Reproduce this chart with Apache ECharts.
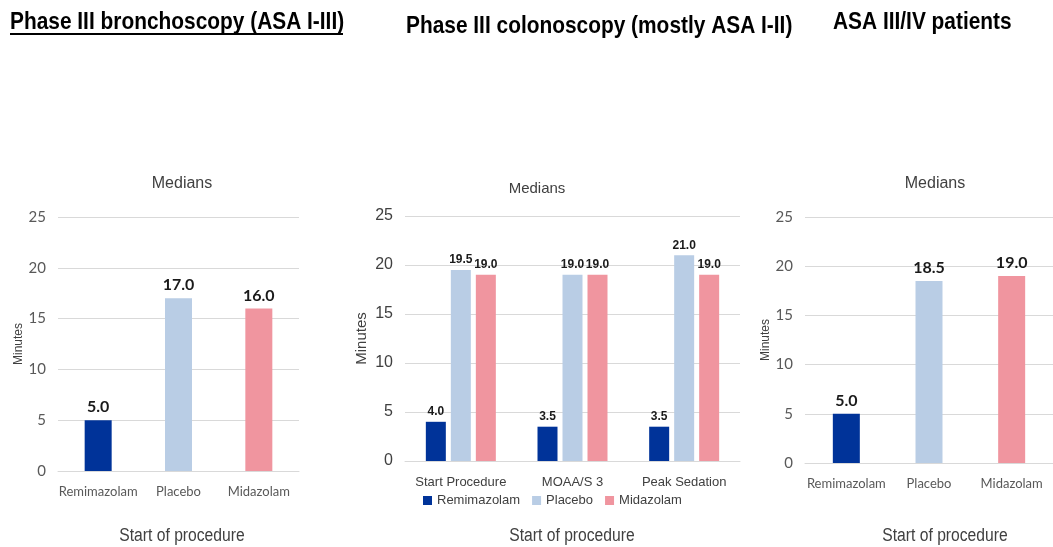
<!DOCTYPE html>
<html>
<head>
<meta charset="utf-8">
<script src="https://cdn.jsdelivr.net/npm/echarts@6/dist/echarts.min.js"></script>
<style>html,body{margin:0;padding:0;background:#fff;}#c{width:1053px;height:547px;}</style>
</head>
<body>
<div id="c"></div>
<script>
// ---- data ----
const seriesNames = ['Remimazolam', 'Placebo', 'Midazolam'];
const bronchCategories = ['Remimazolam', 'Placebo', 'Midazolam'];
const bronchValues = [5.0, 17.0, 16.0];
const colonCategories = ['Start Procedure', 'MOAA/S 3', 'Peak Sedation'];
const colonRemimazolam = [4.0, 3.5, 3.5];
const colonPlacebo = [19.5, 19.0, 21.0];
const colonMidazolam = [19.0, 19.0, 19.0];
const asaCategories = ['Remimazolam', 'Placebo', 'Midazolam'];
const asaValues = [5.0, 18.5, 19.0];
const yTicks = { min: 0, max: 25, interval: 5 };
const panelTitles = ['Phase III bronchoscopy (ASA I-III)', 'Phase III colonoscopy (mostly ASA I-II)', 'ASA III/IV patients'];
const subTitle = 'Medians';
const xAxisTitle = 'Start of procedure';
const yAxisTitle = 'Minutes';

const COLORS = ['#003399', '#B9CDE5', '#F0959F'];
const SANS = '"Liberation Sans", Arial, sans-serif';
const CAL = 'Lato, "Open Sans", sans-serif';
const SQUEEZE = 0.87;

function yAxis(gi, fontFam, fontSize, nameSize, nameGap, color) {
  return {
    gridIndex: gi, type: 'value', min: yTicks.min, max: yTicks.max, interval: yTicks.interval,
    name: yAxisTitle, nameLocation: 'middle', nameRotate: 90, nameGap: nameGap,
    nameTextStyle: { fontFamily: SANS, fontSize: nameSize, color: '#404040' },
    axisLine: { show: false }, axisTick: { show: false },
    axisLabel: { fontFamily: fontFam, fontSize: fontSize, color: color, margin: 12 },
    splitLine: { lineStyle: { color: '#D9D9D9', width: 1 } }
  };
}
function xAxis(gi, cats, fontFam, fontSize, color, margin) {
  return {
    gridIndex: gi, type: 'category', data: cats,
    axisLine: { lineStyle: { color: '#D9D9D9' } }, axisTick: { show: false },
    axisLabel: { fontFamily: fontFam, fontSize: fontSize, color: color, margin: margin, interval: 0 }
  };
}
function coloredData(vals) {
  return vals.map((v, i) => ({ value: v, itemStyle: { color: COLORS[i] } }));
}
function squeezedText(text, x, y, size, weight, align, color) {
  return { type: 'text', x: x, y: y, scaleX: SQUEEZE, z: 10,
    style: { text: text, fontFamily: SANS, fontSize: size, fontWeight: weight, fill: color, align: align, verticalAlign: 'middle' } };
}
const labelCal = { show: true, position: 'top', distance: 5, fontFamily: CAL, fontWeight: 'bold', fontSize: 16, color: '#1a1a1a', formatter: p => p.value.toFixed(1) };
const labelNarrow = { show: true, position: 'top', distance: 4, fontFamily: SANS, fontWeight: 'bold', fontSize: 12, color: '#1a1a1a', formatter: p => p.value.toFixed(1) };

const chart = echarts.init(document.getElementById('c'));
chart.setOption({
  animation: false,
  backgroundColor: '#fff',
  title: [
    { text: subTitle, left: 177, top: 171, textAlign: 'center', textStyle: { fontFamily: SANS, fontWeight: 'normal', fontSize: 16, color: '#404040' } },
    { text: subTitle, left: 532, top: 176, textAlign: 'center', textStyle: { fontFamily: SANS, fontWeight: 'normal', fontSize: 15, color: '#404040' } },
    { text: subTitle, left: 930, top: 171, textAlign: 'center', textStyle: { fontFamily: SANS, fontWeight: 'normal', fontSize: 16, color: '#404040' } }
  ],
  graphic: [
    squeezedText(panelTitles[0], 10, 22, 24, 'bold', 'left', '#000'),
    squeezedText(panelTitles[1], 406, 26, 24, 'bold', 'left', '#000'),
    squeezedText(panelTitles[2], 833, 22, 24, 'bold', 'left', '#000'),
    { type: 'rect', shape: { x: 10, y: 33, width: 333, height: 2 }, style: { fill: '#000' } },
    squeezedText(xAxisTitle, 182, 536, 18, 'normal', 'center', '#404040'),
    squeezedText(xAxisTitle, 572, 536, 18, 'normal', 'center', '#404040'),
    squeezedText(xAxisTitle, 945, 536, 18, 'normal', 'center', '#404040')
  ],
  legend: {
    data: seriesNames, left: 418, top: 489, itemWidth: 9, itemHeight: 9, itemGap: 12, icon: 'rect',
    textStyle: { fontFamily: SANS, fontSize: 13, color: '#404040' }
  },
  grid: [
    { left: 58, right: 754, top: 217, bottom: 76 },
    { left: 405, width: 335, top: 216, bottom: 86 },
    { left: 805, width: 255, top: 217, bottom: 84 }
  ],
  xAxis: [
    xAxis(0, bronchCategories, CAL, 13, '#595959', 14),
    xAxis(1, colonCategories, SANS, 13, '#404040', 15),
    xAxis(2, asaCategories, CAL, 13, '#595959', 14)
  ],
  yAxis: [
    yAxis(0, CAL, 15, 12, 30, '#595959'),
    yAxis(1, SANS, 16, 15, 36, '#404040'),
    yAxis(2, CAL, 15, 12, 32, '#595959')
  ],
  series: [
    { name: 'bronch', type: 'bar', xAxisIndex: 0, yAxisIndex: 0, barWidth: 27, data: coloredData(bronchValues), label: labelCal },
    { name: 'Remimazolam', type: 'bar', xAxisIndex: 1, yAxisIndex: 1, barWidth: 20, barGap: '25%', itemStyle: { color: COLORS[0] }, data: colonRemimazolam, label: labelNarrow },
    { name: 'Placebo', type: 'bar', xAxisIndex: 1, yAxisIndex: 1, barWidth: 20, barGap: '25%', itemStyle: { color: COLORS[1] }, data: colonPlacebo, label: labelNarrow },
    { name: 'Midazolam', type: 'bar', xAxisIndex: 1, yAxisIndex: 1, barWidth: 20, barGap: '25%', itemStyle: { color: COLORS[2] }, data: colonMidazolam, label: labelNarrow },
    { name: 'asa', type: 'bar', xAxisIndex: 2, yAxisIndex: 2, barWidth: 27, data: coloredData(asaValues), label: labelCal }
  ]
});
</script>
</body>
</html>
